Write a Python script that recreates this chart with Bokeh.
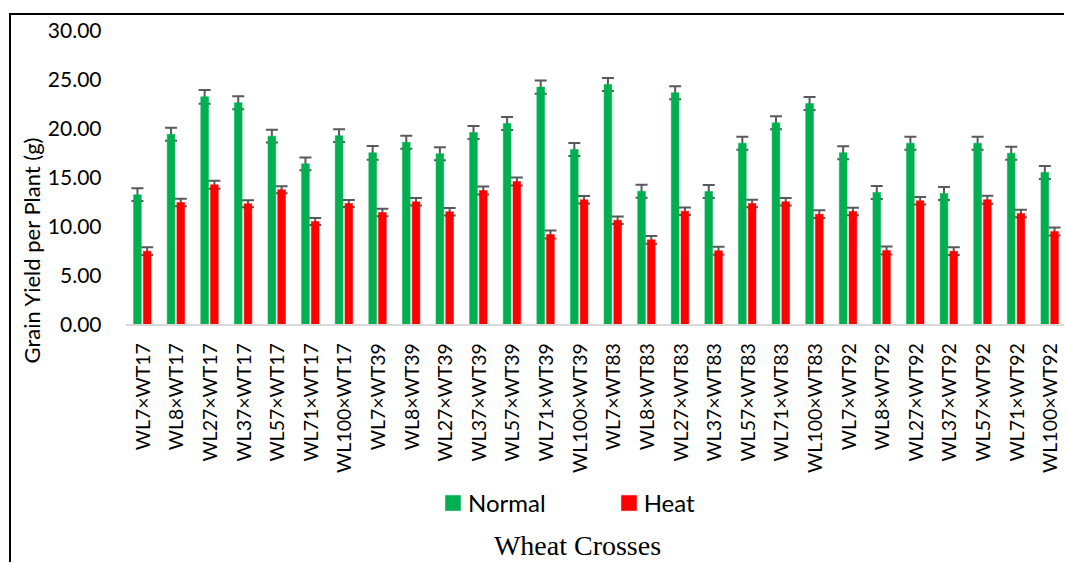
from math import pi
from bokeh.plotting import figure
from bokeh.models import (ColumnDataSource, Whisker, Span, Legend, LegendItem, Label, Title,
                          FixedTicker, NumeralTickFormatter, Range1d, FactorRange, TeeHead)
from bokeh.transform import dodge
from bokeh.core.properties import value
from bokeh.embed import file_html
from bokeh.resources import INLINE

categories = ["WL7×WT17", "WL8×WT17", "WL27×WT17", "WL37×WT17", "WL57×WT17", "WL71×WT17", "WL100×WT17",
              "WL7×WT39", "WL8×WT39", "WL27×WT39", "WL37×WT39", "WL57×WT39", "WL71×WT39", "WL100×WT39",
              "WL7×WT83", "WL8×WT83", "WL27×WT83", "WL37×WT83", "WL57×WT83", "WL71×WT83", "WL100×WT83",
              "WL7×WT92", "WL8×WT92", "WL27×WT92", "WL37×WT92", "WL57×WT92", "WL71×WT92", "WL100×WT92"]

normal = [13.29, 19.47, 23.28, 22.67, 19.27, 16.45, 19.31,
          17.57, 18.65, 17.47, 19.64, 20.56, 24.27, 17.91,
          24.54, 13.65, 23.69, 13.62, 18.55, 20.63, 22.60,
          17.57, 13.52, 18.55, 13.42, 18.55, 17.53, 15.56]

heat = [7.53, 12.50, 14.31, 12.37, 13.80, 10.56, 12.40,
        11.48, 12.57, 11.55, 13.72, 14.64, 9.23, 12.78,
        10.69, 8.69, 11.61, 7.57, 12.40, 12.57, 11.31,
        11.58, 7.60, 12.67, 7.53, 12.78, 11.38, 9.54]

normal_err = [0.65, 0.66, 0.70, 0.67, 0.65, 0.65, 0.65,
              0.70, 0.66, 0.66, 0.66, 0.66, 0.68, 0.66,
              0.66, 0.66, 0.66, 0.66, 0.66, 0.66, 0.66,
              0.66, 0.66, 0.66, 0.66, 0.66, 0.66, 0.66]

heat_err = [0.40, 0.38, 0.40, 0.36, 0.36, 0.36, 0.36,
            0.38, 0.38, 0.38, 0.40, 0.42, 0.40, 0.38,
            0.38, 0.40, 0.38, 0.40, 0.38, 0.38, 0.40,
            0.38, 0.40, 0.38, 0.40, 0.40, 0.38, 0.40]

y_ticks = [0, 5, 10, 15, 20, 25, 30]

GREEN = "#00B050"
RED = "#FF0000"
ERR = "#595959"
FONT = "Lato"

src = ColumnDataSource(dict(
    cat=categories, normal=normal, heat=heat,
    n_up=[v + e for v, e in zip(normal, normal_err)],
    n_lo=[v - e for v, e in zip(normal, normal_err)],
    h_up=[v + e for v, e in zip(heat, heat_err)],
    h_lo=[v - e for v, e in zip(heat, heat_err)],
))

p = figure(x_range=FactorRange(*categories, range_padding=0),
           y_range=Range1d(-24.44, 30.66),
           width=1055, height=549, output_backend="svg", toolbar_location=None,
           x_axis_location=None,
           min_border_left=114, min_border_right=0, min_border_top=9, min_border_bottom=0)
p.margin = (13, 0, 0, 9)
p.styles = {"border-top": "2px solid #000000", "border-left": "2px solid #000000"}
p.outline_line_color = None
p.background_fill_color = "white"
p.border_fill_color = "white"
p.grid.visible = False

# baseline
p.add_layout(Span(location=0, dimension="width", line_color="#D9D9D9", line_width=2))

rn = p.vbar(x=dodge("cat", -0.145, range=p.x_range), top="normal", width=0.23,
            source=src, fill_color=GREEN, line_color=GREEN, line_width=0.5)
rh = p.vbar(x=dodge("cat", 0.145, range=p.x_range), top="heat", width=0.23,
            source=src, fill_color=RED, line_color=RED, line_width=0.5)

for base, up, lo in ((-0.145, "n_up", "n_lo"), (0.145, "h_up", "h_lo")):
    w = Whisker(base=dodge("cat", base, range=p.x_range), upper=up, lower=lo, source=src,
                line_color=ERR, line_width=2,
                upper_head=TeeHead(size=12, line_color=ERR, line_width=2),
                lower_head=TeeHead(size=12, line_color=ERR, line_width=2))
    p.add_layout(w)

# category labels under the baseline
p.text(x="cat", y=-1.85, text="cat", source=src, angle=pi / 2,
       text_align="right", text_baseline="middle",
       text_font=value(FONT), text_font_size="19.5px", text_color="black")

ax = p.yaxis[0]
ax.ticker = FixedTicker(ticks=y_ticks)
ax.formatter = NumeralTickFormatter(format="0.00")
ax.axis_line_color = None
ax.major_tick_line_color = None
ax.minor_tick_line_color = None
ax.major_tick_out = 0
ax.major_label_standoff = 24
ax.major_label_text_font = FONT
ax.major_label_text_font_size = "21px"
ax.major_label_text_color = "black"

# y-axis title (placed as a side title so it sits where the reference has it)
p.add_layout(Title(text="Grain Yield per Plant (g)", align="left", offset=201,
                   text_font=FONT, text_font_size="22px", text_font_style="normal",
                   text_color="black", standoff=0), "left")

legend = Legend(items=[LegendItem(label="Normal", renderers=[rn]),
                       LegendItem(label="Heat", renderers=[rh])],
                orientation="horizontal", location=(318, 47),
                margin=0, padding=0, spacing=73,
                glyph_width=19, glyph_height=19, label_standoff=6,
                label_text_font=FONT, label_text_font_size="24px", label_text_color="black",
                border_line_color=None, background_fill_alpha=0)
p.add_layout(legend, "center")

p.add_layout(Label(x=452, y=19, x_units="screen", y_units="screen", text="Wheat Crosses",
                   text_align="center", text_baseline="middle",
                   text_font="Liberation Serif", text_font_size="28px", text_color="black"))

open("out.html", "w").write(file_html(p, INLINE))
